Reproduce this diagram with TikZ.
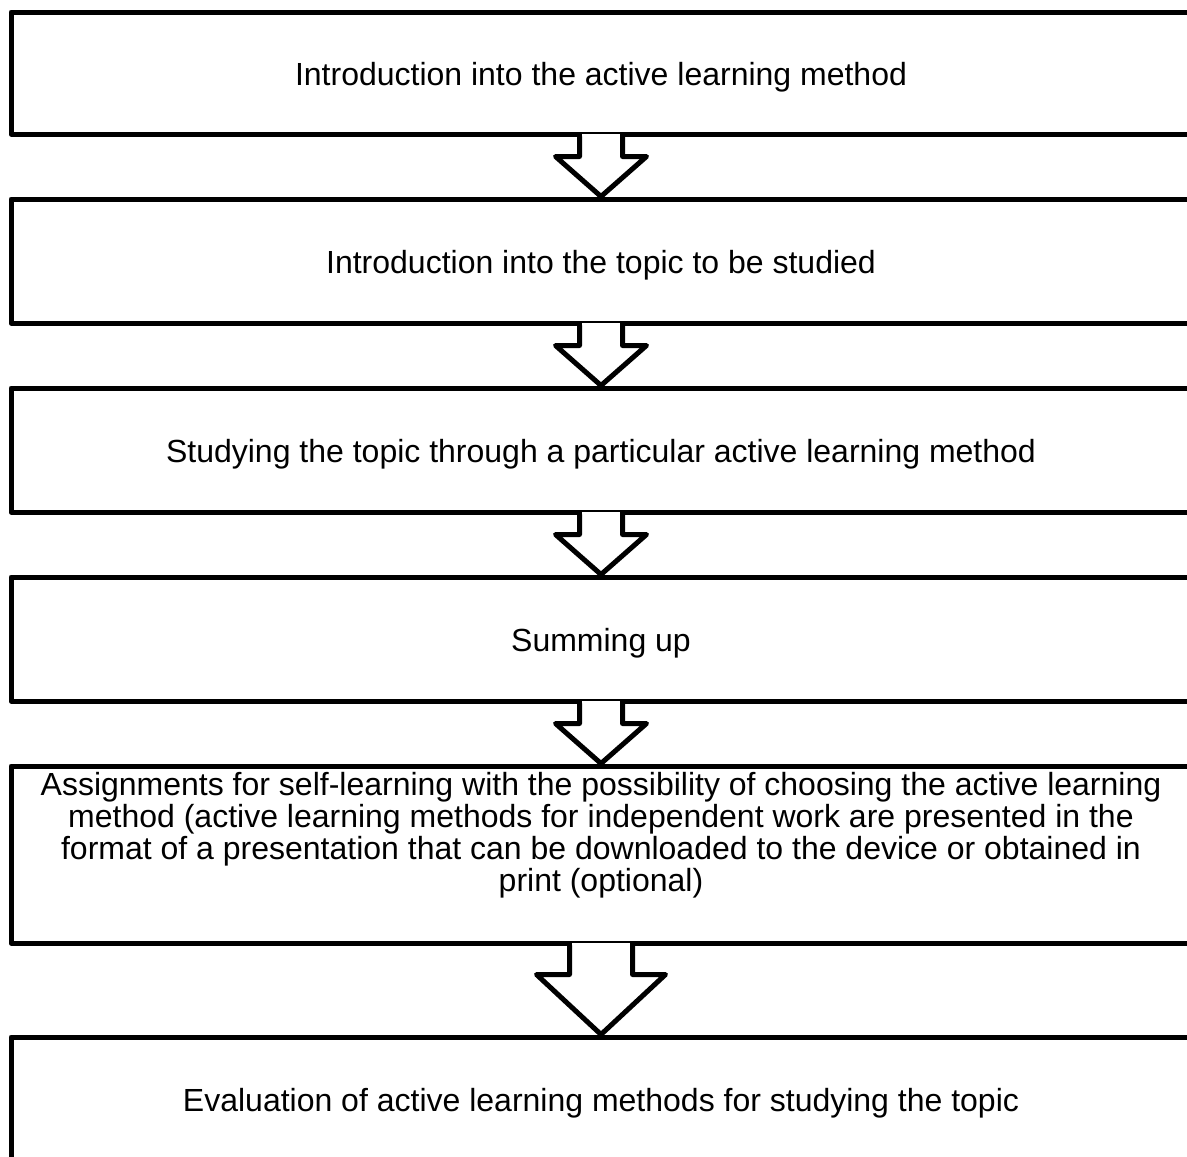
\documentclass[tikz,border=0pt]{standalone}
\usepackage{fontspec}
\setmainfont{Liberation Sans}
\usetikzlibrary{positioning, calc}

\tikzset{
  stagebox/.style={draw, line width=5pt, line join=round, minimum width=1180pt,
    minimum height=124pt, inner sep=0pt, align=center, text height=28pt, text depth=4pt},
  stagetext/.style={align=center, inner sep=0pt},
  flowarrow/.style={draw, line width=5pt, line join=round, line cap=round}
}

\begin{document}
\begin{tikzpicture}[x=1pt, y=-1pt, font=\fontsize{32}{32}\selectfont]
    % Page frame (boxes run past the right and bottom edges)
    \path[use as bounding box, clip] (0,0) rectangle (1187,1157);

    % Stages
    \node[stagebox, minimum height=122pt] (b1) at (601,73) {Introduction into the active learning method};
    \node[stagebox] (b2) at (601,261) {Introduction into the topic to be studied};
    \node[stagebox] (b3) at (601,450) {Studying the topic through a particular active learning method};
    \node[stagebox] (b4) at (601,639) {Summing up};
    \node[stagebox, minimum height=177pt] (b5) at (601,854.5) {};
    \node[stagetext, anchor=north] (t5) at ($(b5.north)+(0,9)$) {Assignments for self-learning with the possibility of choosing the active learning\\
      method (active learning methods for independent work are presented in the\\
      format of a presentation that can be downloaded to the device or obtained in\\
      print (optional)};
    \node[stagebox] (b6) at (601,1099) {Evaluation of active learning methods for studying the topic};

    % Small block arrows
    \fill[white] ($(b1.south)+(-19,-3)$) rectangle ($(b1.south)+(19,3)$);
    \draw[flowarrow] ($(b1.south)+(-21.5,0)$) -- ++(0,20) -- ++(-24,0) -- (b2.north)
      -- ($(b1.south)+(45.5,20)$) -- ++(-24,0) -- ++(0,-20);

    \fill[white] ($(b2.south)+(-19,-3)$) rectangle ($(b2.south)+(19,3)$);
    \draw[flowarrow] ($(b2.south)+(-21.5,0)$) -- ++(0,20) -- ++(-24,0) -- (b3.north)
      -- ($(b2.south)+(45.5,20)$) -- ++(-24,0) -- ++(0,-20);

    \fill[white] ($(b3.south)+(-19,-3)$) rectangle ($(b3.south)+(19,3)$);
    \draw[flowarrow] ($(b3.south)+(-21.5,0)$) -- ++(0,20) -- ++(-24,0) -- (b4.north)
      -- ($(b3.south)+(45.5,20)$) -- ++(-24,0) -- ++(0,-20);

    \fill[white] ($(b4.south)+(-19,-3)$) rectangle ($(b4.south)+(19,3)$);
    \draw[flowarrow] ($(b4.south)+(-21.5,0)$) -- ++(0,20) -- ++(-24,0) -- (b5.north)
      -- ($(b4.south)+(45.5,20)$) -- ++(-24,0) -- ++(0,-20);

    % Large block arrow
    \fill[white] ($(b5.south)+(-29,-3)$) rectangle ($(b5.south)+(29,3)$);
    \draw[flowarrow] ($(b5.south)+(-31.5,0)$) -- ++(0,29) -- ++(-33,0) -- (b6.north)
      -- ($(b5.south)+(64.5,29)$) -- ++(-33,0) -- ++(0,-29);
\end{tikzpicture}
\end{document}
